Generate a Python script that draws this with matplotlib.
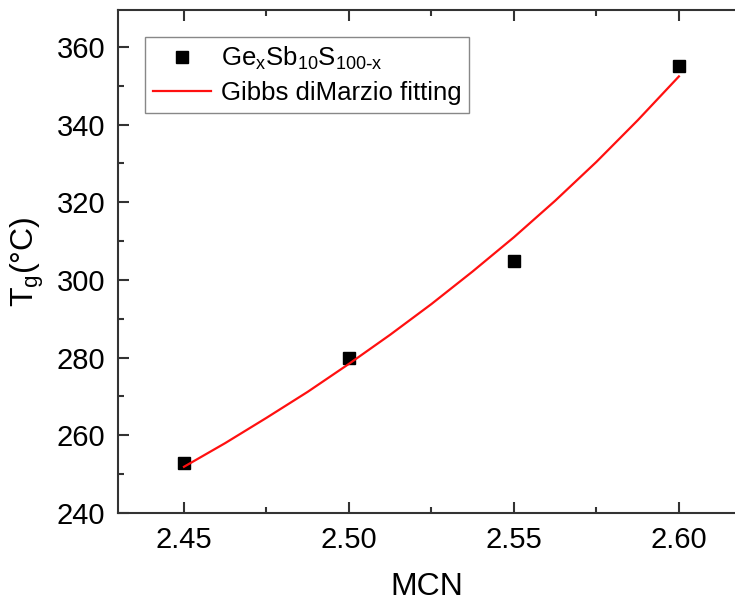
import numpy as np
import matplotlib.pyplot as plt
from matplotlib.ticker import MultipleLocator

plt.rcParams['font.family'] = ['Liberation Sans', 'DejaVu Sans']
plt.rcParams['mathtext.default'] = 'regular'

# measured glass transition temperatures
mcn = [2.45, 2.50, 2.55, 2.60]
tg = [253, 280, 305, 355]

# Gibbs-DiMarzio fit curve
fit_mcn = [2.45, 2.4625, 2.475, 2.4875, 2.50, 2.5125, 2.525,
           2.5375, 2.55, 2.5625, 2.575, 2.5875, 2.60]
fit_tg = [251.9, 258.0, 264.5, 271.2, 278.4, 285.9, 293.8,
          302.2, 311.0, 320.4, 330.4, 341.1, 352.4]

fig = plt.figure(figsize=(7.35, 6.02), dpi=100)
ax = fig.add_axes([118 / 735, 89 / 602, 617 / 735, 503 / 602])

ax.plot(mcn, tg, 's', color='black', ms=8, label=r'Ge$_x$Sb$_{10}$S$_{100\text{-}x}$')
ax.plot(fit_mcn, fit_tg, '-', color='#ff1010', lw=1.6, label='Gibbs diMarzio fitting')

ax.set_xlim(2.43, 2.617)
ax.set_ylim(240, 369.5)
ax.xaxis.set_major_locator(MultipleLocator(0.05))
ax.xaxis.set_minor_locator(MultipleLocator(0.025))
ax.yaxis.set_major_locator(MultipleLocator(20))
ax.yaxis.set_minor_locator(MultipleLocator(10))
ax.xaxis.set_major_formatter(plt.FormatStrFormatter('%.2f'))

ax.tick_params(which='both', direction='in', top=True, right=False,
               labelsize=21, width=1.5, color='#333333', pad=9)
ax.tick_params(which='major', length=8)
ax.tick_params(which='minor', length=4)
for side in ['left', 'bottom', 'top']:
    ax.spines[side].set_linewidth(1.5)
    ax.spines[side].set_color('#333333')
ax.spines['right'].set_visible(False)

ax.set_xlabel('MCN', fontsize=23, labelpad=13)
ax.set_ylabel('T$_g$(°C)', fontsize=23, labelpad=8)

leg = ax.legend(loc='upper left', bbox_to_anchor=(0.044, 0.946), borderaxespad=0,
                fontsize=18.5, fancybox=False, edgecolor='#888888', framealpha=1,
                numpoints=1, handlelength=2.25, handletextpad=0.4,
                borderpad=0.3, labelspacing=0.35)
leg.get_frame().set_linewidth(1.0)

fig.savefig('out.png', dpi=100)
